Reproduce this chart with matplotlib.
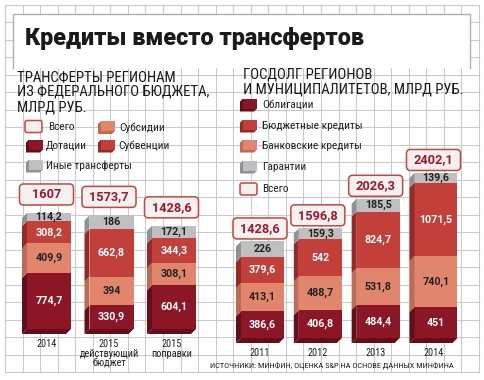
import matplotlib
matplotlib.use('Agg')
import matplotlib.pyplot as plt
from matplotlib import font_manager as fm
from matplotlib.patches import Rectangle, FancyBboxPatch, Polygon
import matplotlib.transforms as mtrans

# ---------------- data ----------------
left_cats = ['2014', '2015\nдействующий\nбюджет', '2015\nпоправки']
dotacii = [774.7, 330.9, 604.1]
subsidii = [409.9, 394, 308.1]
subvencii = [308.2, 662.8, 344.3]
inye = [114.2, 186, 172.1]
left_totals = [1607, 1573.7, 1428.6]

right_cats = ['2011', '2012', '2013', '2014']
obligacii = [386.6, 406.8, 484.4, 451]
bank_credits = [413.1, 488.7, 531.8, 740.1]
budget_credits = [379.6, 542, 824.7, 1071.5]
garantii = [226, 159.3, 185.5, 139.6]
right_totals = [1428.6, 1596.8, 2026.3, 2402.1]

# ---------------- style ----------------
DARK, DARK_S = '#8C1526', '#650D1A'
RED, RED_S = '#C3403A', '#972A27'
SAL, SAL_S = '#E1866C', '#BE6A55'
GRAY, GRAY_S = '#BFBFC1', '#929296'
GRID = '#CACACA'
TOT_TXT = '#A3172D'
TOT_EDGE = '#C8443C'
TOT_FACE = '#F4F1F1'

names = {f.name for f in fm.fontManager.ttflist}
NARROW_KW = None
for cand in ['Liberation Sans Narrow', 'Roboto Condensed', 'Noto Sans Condensed',
             'Open Sans Condensed', 'DejaVu Sans Condensed', 'Noto Sans SemiCondensed']:
    if cand in names:
        NARROW_KW = dict(family=cand)
        break
if NARROW_KW is None:
    if any(f.name == 'DejaVu Sans' and str(f.stretch) in ('condensed', 'semi-condensed', '87.5', '75')
           for f in fm.fontManager.ttflist):
        NARROW_KW = dict(family='DejaVu Sans', stretch='condensed')
    else:
        NARROW_KW = dict(family='Roboto')
NUM_FAMILY = 'Roboto' if 'Roboto' in names else 'DejaVu Sans'

def fmt(v):
    return f"{v:g}".replace('.', ',')

fig = plt.figure(figsize=(4.84, 3.8), dpi=100)
fig.patch.set_facecolor('white')

# background axes in pixel coordinates
bg = fig.add_axes([0, 0, 1, 1])
bg.set_xlim(0, 484)
bg.set_ylim(380, 0)
bg.axis('off')
bg.set_zorder(0)

for k in range(28):
    x = 5 + k * 474 / 27
    bg.plot([x, x], [5, 372], color=GRID, lw=0.8, zorder=1)
for k in range(22):
    y = 5 + k * 367 / 21
    bg.plot([5, 479], [y, y], color=GRID, lw=0.8, zorder=1)

bg.add_patch(Rectangle((12.7, 14), 457.3, 54, fc='white', ec='none', zorder=2))
bg.plot([12.7, 12.7, 470, 470], [68, 14, 14, 68], color='#AFAFAF', lw=1, zorder=3)
bg.text(25, 38, 'Кредиты вместо трансфертов', fontsize=16.8, fontweight='black',
        family='Roboto', va='center', ha='left', color='#1a1a1a', zorder=4)

sub_kw = dict(fontsize=10.6, color='#1a1a1a', va='baseline', ha='left', zorder=4, **NARROW_KW)
for txt, yb in zip(['ТРАНСФЕРТЫ РЕГИОНАМ', 'ИЗ ФЕДЕРАЛЬНОГО БЮДЖЕТА,', 'МЛРД РУБ.'], [81, 96, 111]):
    bg.text(17.3, yb, txt, **sub_kw)
for txt, yb in zip(['ГОСДОЛГ РЕГИОНОВ', 'И МУНИЦИПАЛИТЕТОВ, МЛРД РУБ.'], [78.5, 93.5]):
    bg.text(243, yb, txt, **sub_kw)

leg_kw = dict(fontsize=8.2, color='#222222', va='center', ha='left', zorder=4, **NARROW_KW)

def marker(x0, yc, color, side):
    bg.add_patch(Polygon([(x0, yc - 3.5), (x0 + 3, yc - 6.5), (x0 + 3, yc + 3.5),
                          (x0 + 17, yc + 3.5), (x0 + 14, yc + 6.5), (x0, yc + 6.5)],
                         closed=True, fc=side, ec='none', zorder=4))
    bg.add_patch(Rectangle((x0 + 3, yc - 6.5), 14, 10, fc=color, ec='none', zorder=4))

def total_marker(x0, yc):
    bg.add_patch(FancyBboxPatch((x0, yc - 6), 17, 12, boxstyle='round,pad=0,rounding_size=2',
                                fc=TOT_FACE, ec=TOT_EDGE, lw=1.1, zorder=4))

# left legend
total_marker(25, 126.5)
bg.text(48, 126.5, 'Всего', **leg_kw)
marker(98, 127.5, SAL, SAL_S)
bg.text(119, 127.5, 'Субсидии', **leg_kw)
marker(26, 146, DARK, DARK_S)
bg.text(46, 146, 'Дотации', **leg_kw)
marker(98, 146, RED, RED_S)
bg.text(118, 146, 'Субвенции', **leg_kw)
marker(26, 166, GRAY, GRAY_S)
bg.text(46, 166, 'Иные трансферты', **leg_kw)

# right legend
for yc, c, s, t in [(105, DARK, DARK_S, 'Облигации'), (126, RED, RED_S, 'Бюджетные кредиты'),
                    (146, SAL, SAL_S, 'Банковские кредиты'), (167, GRAY, GRAY_S, 'Гарантии')]:
    marker(240, yc, c, s)
    bg.text(262, yc, t, **leg_kw)
total_marker(240, 189)
bg.text(262, 189, 'Всего', **leg_kw)

bg.text(210, 366, 'ИСТОЧНИКИ: МИНФИН, ОЦЕНКА S&P НА ОСНОВЕ ДАННЫХ МИНФИНА',
        fontsize=6.0, color='#222222', va='center', ha='left', zorder=4, **NARROW_KW)


def panel(rect, cats, series, totals, width, px_x, px_y, ymax, tot_off, pad):
    ax = fig.add_axes(rect)
    ax.set_zorder(1)
    ax.patch.set_alpha(0)
    ax.set_xlim(-0.5, len(cats) - 0.5)
    ax.set_ylim(0, ymax)
    for sp in ax.spines.values():
        sp.set_visible(False)
    ax.set_yticks([])
    dx = 5 / px_x
    dy = 5 / px_y
    for i in range(len(cats)):
        bottom = 0
        x0 = i - width / 2
        for vals, c, s, tc in series:
            v = vals[i]
            ax.bar(i, v, width, bottom=bottom, color=c, edgecolor='none', zorder=3)
            ax.add_patch(Polygon([(x0 - dx, bottom - dy), (x0, bottom), (x0, bottom + v),
                                  (x0 - dx, bottom + v - dy)], closed=True, fc=s, ec='none',
                                 zorder=3, clip_on=False))
            ax.text(i, bottom + v / 2, fmt(v), ha='center', va='center', color=tc,
                    fontsize=7.7, fontweight='bold', family=NUM_FAMILY, zorder=5)
            bottom += v
        first_side = series[0][2]
        ax.add_patch(Polygon([(x0 - dx, -dy), (x0 + width - dx, -dy), (x0 + width, 0), (x0, 0)],
                             closed=True, fc=first_side, ec='none', zorder=3, clip_on=False))
        xc = i - dx / 2
        trans = fig.dpi_scale_trans + mtrans.ScaledTranslation(xc, bottom, ax.transData)
        bw, bh = 0.54, 0.21
        ax.add_patch(FancyBboxPatch((-bw / 2, tot_off - bh / 2), bw, bh,
                                    boxstyle='round,pad=0,rounding_size=0.04',
                                    fc=TOT_FACE, ec=TOT_EDGE, lw=1.1, transform=trans,
                                    zorder=4, clip_on=False))
        ax.text(0, tot_off, fmt(totals[i]), transform=trans, ha='center', va='center',
                color=TOT_TXT, fontsize=9.2, fontweight='bold', family=NUM_FAMILY, zorder=5)
    ax.set_xticks([i - dx / 2 for i in range(len(cats))])
    ax.set_xticklabels(cats, fontsize=7.4, color='#222222', **NARROW_KW)
    for lbl in ax.get_xticklabels():
        lbl.set_linespacing(0.95)
    ax.tick_params(axis='x', length=0, pad=pad)
    return ax

W, H = 484, 380
# left panel: x px 17.75..205.25, y px 170..329
lpx_x = 62.5
lpx_y = 0.0722
panel([17.75 / W, (H - 329) / H, 187.5 / W, 159 / H], left_cats,
      [(dotacii, DARK, DARK_S, 'white'), (subsidii, SAL, SAL_S, '#222222'),
       (subvencii, RED, RED_S, 'white'), (inye, GRAY, GRAY_S, '#222222')],
      left_totals, 44 / lpx_x, lpx_x, lpx_y, 159 / lpx_y, 0.185, 7.2)

# right panel: x px 233.6..464.9, y px 140..338
rpx_x = 57.8
rpx_y = 0.0687
panel([233.6 / W, (H - 338) / H, 231.3 / W, 198 / H], right_cats,
      [(obligacii, DARK, DARK_S, 'white'), (bank_credits, SAL, SAL_S, '#222222'),
       (budget_credits, RED, RED_S, 'white'), (garantii, GRAY, GRAY_S, '#222222')],
      right_totals, 43 / rpx_x, rpx_x, rpx_y, 198 / rpx_y, 0.13, 7.0)

fig.savefig('out.png', dpi=100, facecolor='white')
